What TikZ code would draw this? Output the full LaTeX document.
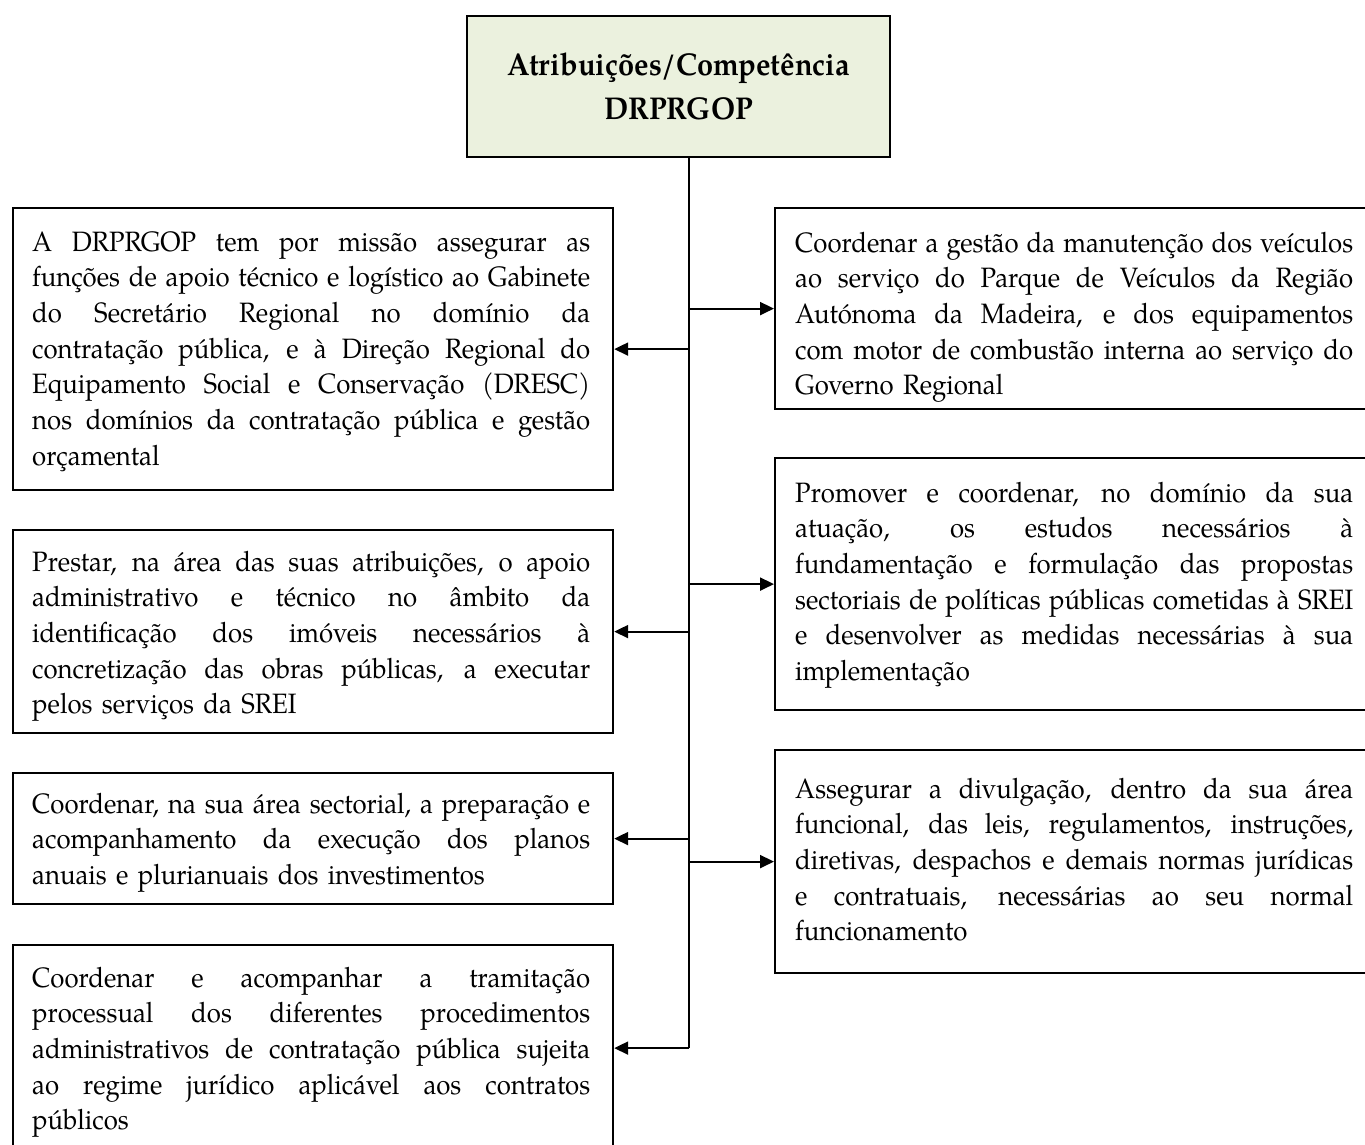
\documentclass[tikz,border=0pt]{standalone}
\usepackage{fontspec}
\setmainfont[FakeStretch=0.92]{TeX Gyre Pagella}
\usetikzlibrary{arrows.meta}
\definecolor{topfill}{HTML}{EBF1DE}
\newcommand{\jl}[1]{\noindent\hbox to 558pt{\spaceskip=0.25em plus 1fil minus 0.08em\xspaceskip=\spaceskip #1}\par}
\newcommand{\lastline}[1]{\noindent\hbox{#1}\par}
\tikzset{
  box/.style={draw, line width=2.2pt, rectangle, inner sep=0pt, anchor=north west},
  topbox/.style={draw, line width=2.2pt, fill=topfill, rectangle, inner sep=0pt,
    minimum width=423pt, minimum height=141pt, align=center,
    font=\bfseries\fontsize{31.5}{44}\selectfont},
  txt/.style={text width=558pt, inner sep=0pt, anchor=base west,
    font=\fontsize{28}{35.7}\selectfont},
  arr/.style={line width=2pt, -{Triangle[length=14pt,width=13pt]}},
  trunk/.style={line width=2pt},
}
\begin{document}
\begin{tikzpicture}[x=1pt,y=-1pt]
\useasboundingbox (0,0) rectangle (1365,1145);
% title
\node[topbox] (top) at (678.5,86.5) {Atribuições/Competência\\DRPRGOP};
% left boxes
\node[box, minimum width=600pt, minimum height=282pt] (l1) at (12,207) {};
\node[box, minimum width=600pt, minimum height=203pt] (l2) at (12,529) {};
\node[box, minimum width=600pt, minimum height=131pt] (l3) at (12,772) {};
\node[box, minimum width=600pt, minimum height=206pt] (l4) at (12,944) {};
% right boxes
\node[box, minimum width=599pt, minimum height=201pt] (r1) at (774,207) {};
\node[box, minimum width=599pt, minimum height=252pt] (r2) at (774,457) {};
\node[box, minimum width=599pt, minimum height=223pt] (r3) at (774,749) {};
% texts
\node[txt] (tl1) at (32,251) {%
\jl{A DRPRGOP tem por missão assegurar as}
\jl{funções de apoio técnico e logístico ao Gabinete}
\jl{do Secretário Regional no domínio da}
\jl{contratação pública, e à Direção Regional do}
\jl{Equipamento Social e Conservação (DRESC)}
\jl{nos domínios da contratação pública e gestão}
\lastline{orçamental}};
\node[txt] (tl2) at (32,571) {%
\jl{Prestar, na área das suas atribuições, o apoio}
\jl{administrativo e técnico no âmbito da}
\jl{identificação dos imóveis necessários à}
\jl{concretização das obras públicas, a executar}
\lastline{pelos serviços da SREI}};
\node[txt] (tl3) at (32,813) {%
\jl{Coordenar, na sua área sectorial, a preparação e}
\jl{acompanhamento da execução dos planos}
\lastline{anuais e plurianuais dos investimentos}};
\node[txt] (tl4) at (32,987) {%
\jl{Coordenar e acompanhar a tramitação}
\jl{processual dos diferentes procedimentos}
\jl{administrativos de contratação pública sujeita}
\jl{ao regime jurídico aplicável aos contratos}
\lastline{públicos}};
\node[txt] (tr1) at (795,252) {%
\jl{Coordenar a gestão da manutenção dos veículos}
\jl{ao serviço do Parque de Veículos da Região}
\jl{Autónoma da Madeira, e dos equipamentos}
\jl{com motor de combustão interna ao serviço do}
\lastline{Governo Regional}};
\node[txt] (tr2) at (795,502) {%
\jl{Promover e coordenar, no domínio da sua}
\jl{atuação, os estudos necessários à}
\jl{fundamentação e formulação das propostas}
\jl{sectoriais de políticas públicas cometidas à SREI}
\jl{e desenvolver as medidas necessárias à sua}
\lastline{implementação}};
\node[txt] (tr3) at (795,798) {%
\jl{Assegurar a divulgação, dentro da sua área}
\jl{funcional, das leis, regulamentos, instruções,}
\jl{diretivas, despachos e demais normas jurídicas}
\jl{e contratuais, necessárias ao seu normal}
\lastline{funcionamento}};
% trunk
\coordinate (tk) at (689,0);
\draw[trunk] (tk |- top.south) -- (tk |- l4.east);
% arrows
\draw[arr] (tk |- l1.east) -- (l1.east);
\draw[arr] (tk |- l2.east) -- (l2.east);
\draw[arr] (tk |- l3.east) -- (l3.east);
\draw[arr] (tk |- l4.east) -- (l4.east);
\draw[arr] (tk |- r1.west) -- (r1.west);
\draw[arr] (tk |- r2.west) -- (r2.west);
\draw[arr] (tk |- r3.west) -- (r3.west);
\end{tikzpicture}
\end{document}
